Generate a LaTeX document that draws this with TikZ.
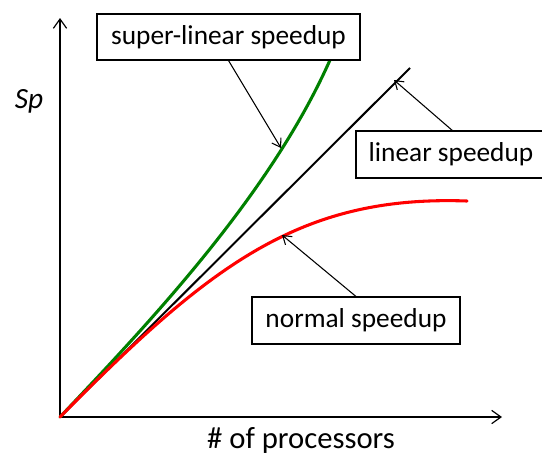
\documentclass[tikz,border=0pt]{standalone}
\usepackage{fontspec}
\setmainfont{Carlito}
\usetikzlibrary{arrows.meta}
\definecolor{sgreen}{RGB}{0,128,0}
\begin{document}
\begin{tikzpicture}[x=0.75pt,y=-0.75pt,
  axis/.style={line width=1.1pt,-{Straight Barb[length=7pt,width=10pt,line width=0.9pt]}},
  callout/.style={line width=0.8pt,-{Straight Barb[length=6pt,width=8pt,line width=0.8pt]}},
  labelbox/.style={draw,line width=0.8pt,fill=white,inner sep=0pt,font=\fontsize{20.5}{24}\selectfont},
  curve/.style={line width=2.3pt,line cap=round}]
\useasboundingbox (0,0) rectangle (542,458);
\begin{scope}
\clip (0,0) rectangle (542,458);
\coordinate (O) at (60,417);
\coordinate (ytop) at (60,18);
\coordinate (xend) at (502,417);
\draw[axis] (O) -- (ytop);
\draw[axis] (O) -- (xend);
% linear
\coordinate (lend) at (410,68);
\draw[line width=1.5pt] (O) -- (lend);
% super-linear
\coordinate (gend) at (330,60);
\draw[curve,sgreen] (O) .. controls (150,322) and (270,195) .. (gend);
% normal
\coordinate (rend) at (467,201);
\draw[curve,red] (O) .. controls (210,265) and (300,195) .. (rend);
% boxes
\node[labelbox,minimum width=197.25pt,minimum height=34.5pt] (sup) at (228.5,37) {super-linear speedup};
\node[labelbox,minimum width=142.5pt,minimum height=35.25pt] (lin) at (451,154.5) {linear speedup};
\node[labelbox,minimum width=156pt,minimum height=35.25pt] (nor) at (356,320.5) {normal speedup};
\coordinate (tsup) at (281,148);
\coordinate (tlin) at (394,80);
\coordinate (tnor) at (282,235);
\draw[callout] (sup.south) -- (tsup);
\draw[callout] ([xshift=1pt]lin.north) -- (tlin);
\draw[callout] (nor.north) -- (tnor);
\node[font=\fontsize{22}{26}\selectfont\itshape] (sp) at (29,101) {Sp};
\node[font=\fontsize{23}{27}\selectfont] (xl) at (301,440) {\# of processors};
\end{scope}
\end{tikzpicture}
\end{document}
